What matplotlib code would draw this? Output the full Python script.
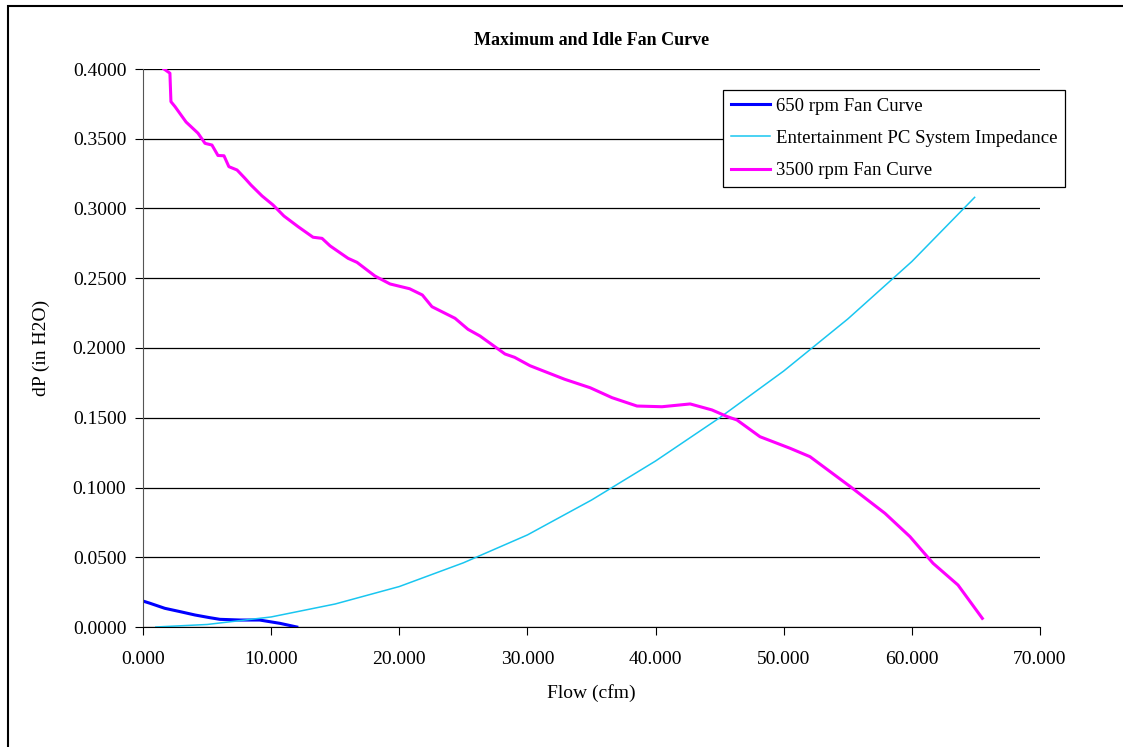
import numpy as np
import matplotlib.pyplot as plt
from matplotlib.patches import Rectangle
from matplotlib.ticker import FormatStrFormatter

# 650 rpm fan curve (idle)
idle_x = [0.0, 0.55, 1.7, 2.9, 4.06, 5.2, 6.0, 7.6, 9.1, 9.9, 10.7, 11.4, 12.0]
idle_y = [0.0186, 0.017, 0.0134, 0.011, 0.0086, 0.0067, 0.0055, 0.005, 0.005,
          0.0038, 0.0026, 0.0012, 0.0]

# system impedance
imp_x = [1.0, 5.0, 10.0, 15.0, 20.0, 25.0, 30.0, 35.0, 40.0, 45.0, 50.0,
         55.0, 60.0, 64.9]
imp_y = [0.0, 0.0018, 0.0072, 0.0165, 0.029, 0.046, 0.066, 0.091, 0.119,
         0.150, 0.1835, 0.2208, 0.262, 0.308]

# 3500 rpm fan curve (maximum)
max_x = [1.64, 2.1, 2.18, 2.5, 2.89, 3.36, 4.29, 4.84, 5.38, 5.85, 6.32, 6.7,
         7.34, 7.96, 8.43, 9.29, 10.15, 11.0, 12.1, 13.27, 13.97, 14.6, 16.0,
         16.7, 18.1, 19.28, 20.8, 21.8, 22.55, 24.35, 25.36, 26.3, 28.25,
         29.0, 30.2, 32.9, 34.9, 36.6, 38.55, 40.5, 42.7, 44.4, 45.6, 46.35,
         48.15, 50.5, 52.05, 55.2, 57.9, 59.85, 61.65, 63.6, 65.5]
max_y = [0.4, 0.397, 0.3766, 0.373, 0.368, 0.362, 0.354, 0.3467, 0.3455,
         0.338, 0.3378, 0.330, 0.3276, 0.3216, 0.3168, 0.309, 0.3025, 0.2946,
         0.287, 0.2794, 0.2786, 0.2732, 0.2643, 0.2614, 0.2516, 0.2459,
         0.2425, 0.238, 0.2296, 0.2213, 0.2134, 0.2086, 0.1957, 0.1933,
         0.1873, 0.1776, 0.1715, 0.1644, 0.1584, 0.1579, 0.1599, 0.1556,
         0.1508, 0.1484, 0.1364, 0.1281, 0.1221, 0.1006, 0.0815, 0.0648,
         0.0457, 0.0301, 0.0062]

plt.rcParams['font.family'] = ['Liberation Serif', 'DejaVu Serif']

fig = plt.figure(figsize=(11.23, 7.47), dpi=100)
ax = fig.add_axes([143 / 1123, 1 - 627 / 747, 897 / 1123, 558 / 747])

# outer chart border
fig.patches.append(Rectangle((8 / 1123, -0.01), 1.1, 1 - 6 / 747 + 0.01,
                             transform=fig.transFigure, fill=False,
                             edgecolor='black', linewidth=1.5))

ax.plot(idle_x, idle_y, color='#0000ff', linewidth=2.2, label='650 rpm Fan Curve')
ax.plot(imp_x, imp_y, color='#19c6f0', linewidth=1.1,
        label='Entertainment PC System Impedance')
ax.plot(max_x, max_y, color='#ff00ff', linewidth=2.2, label='3500 rpm Fan Curve')

ax.set_xlim(0, 70)
ax.set_ylim(0, 0.4)
ax.set_xticks(np.arange(0, 71, 10))
ax.set_yticks(np.arange(0, 0.401, 0.05))
ax.xaxis.set_major_formatter(FormatStrFormatter('%.3f'))
ax.yaxis.set_major_formatter(FormatStrFormatter('%.4f'))
ax.tick_params(labelsize=14, length=6, color='black')
ax.tick_params(axis='x', pad=11)
ax.tick_params(axis='y', pad=6)
ax.yaxis.grid(True, color='black', linewidth=0.9)
ax.set_axisbelow(True)
for s in ['top', 'right']:
    ax.spines[s].set_visible(False)
ax.spines['left'].set_color('#555555')

ax.set_xlabel('Flow (cfm)', fontsize=14, labelpad=12)
ax.set_ylabel('dP (in H2O)', fontsize=14, labelpad=16)
ax.set_title('Maximum and Idle Fan Curve', fontsize=13, fontweight='bold', pad=17)

leg = ax.legend(loc='upper left', bbox_to_anchor=(0.6466, 0.962), fontsize=13.5,
                frameon=True, fancybox=False, edgecolor='black', framealpha=1,
                handlelength=2.1, handletextpad=0.3, borderpad=0.4,
                labelspacing=0.8, borderaxespad=0)
leg.get_frame().set_linewidth(0.9)

fig.savefig('out.png', dpi=100)
